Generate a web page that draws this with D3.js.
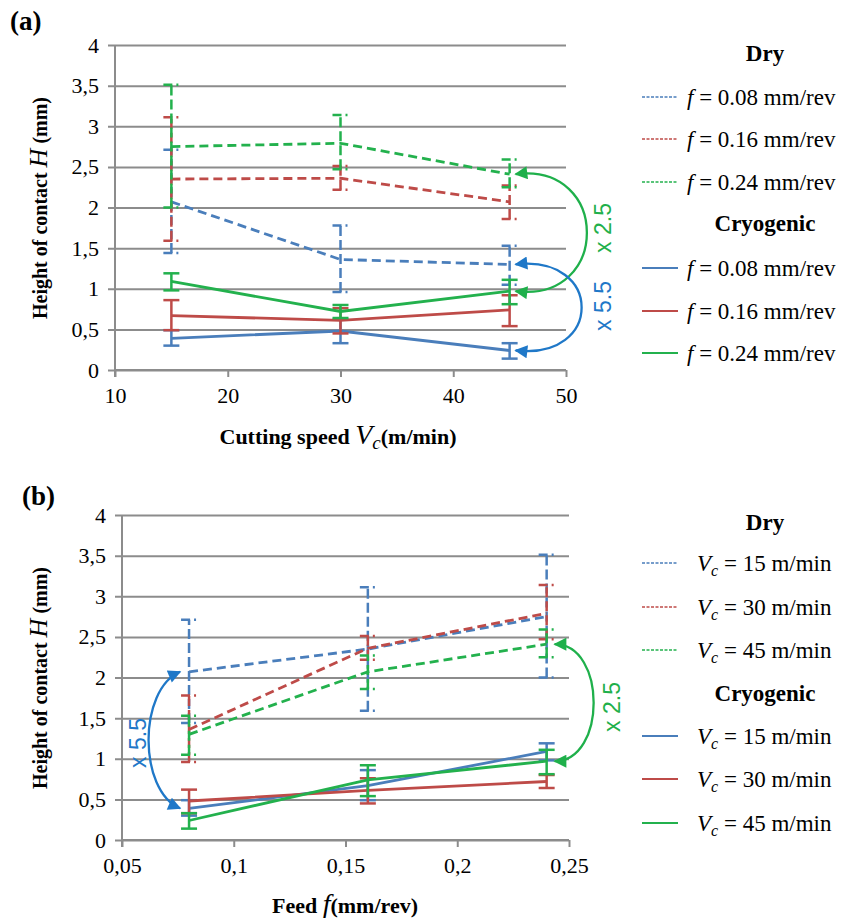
<!DOCTYPE html>
<html lang="en">
<head>
<meta charset="UTF-8" />
<title>Height of contact vs cutting speed and feed</title>
<script src="https://d3js.org/d3.v7.min.js"></script>
<style>
  body { margin: 0; background: #fff; }
</style>
</head>
<body>
<script>

// feed rates (mm/rev) and cutting speeds (m/min)
var feeds = [0.08, 0.16, 0.24];
var speeds = [15, 30, 45];

// rows = feed, columns = cutting speed
var dryMean = [[2.07, 1.36, 1.30], [2.35, 2.36, 2.07], [2.75, 2.79, 2.41]];
var dryLow  = [[1.44, 0.96, 1.05], [1.59, 2.22, 1.86], [2.00, 2.47, 2.25]];
var dryHigh = [[2.71, 1.78, 1.53], [3.11, 2.51, 2.27], [3.51, 3.14, 2.59]];

var cryoMean = [[0.39, 0.48, 0.24], [0.67, 0.61, 0.74], [1.09, 0.72, 0.97]];
var cryoLow  = [[0.30, 0.33, 0.14], [0.49, 0.45, 0.54], [0.98, 0.64, 0.81]];
var cryoHigh = [[0.49, 0.62, 0.33], [0.86, 0.76, 0.92], [1.19, 0.80, 1.11]];

var yTicks = [0, 0.5, 1, 1.5, 2, 2.5, 3, 3.5, 4];
var speedTicks = [10, 20, 30, 40, 50];
var feedTicks = [0.05, 0.1, 0.15, 0.2, 0.25];

var colors = ["#4a7ebb", "#be4b48", "#23b14d"];
var arrowBlue = "#1f78c8", arrowGreen = "#1fb04b";
var SERIF = "'Liberation Serif', 'Times New Roman', serif";
var SANS = "'Liberation Sans', Arial, sans-serif";

var svg = d3.select("body").append("svg")
  .attr("width", 857).attr("height", 918);

var defs = svg.append("defs");
[["arrow-blue", arrowBlue], ["arrow-green", arrowGreen]].forEach(function(m) {
  defs.append("marker")
    .attr("id", m[0])
    .attr("viewBox", "0 0 10 10")
    .attr("refX", 9).attr("refY", 5)
    .attr("markerUnits", "userSpaceOnUse")
    .attr("markerWidth", 15).attr("markerHeight", 13)
    .attr("orient", "auto-start-reverse")
    .append("path").attr("d", "M0,0 L10,5 L0,10 z").attr("fill", m[1]);
});

function comma(d) { return String(d).replace(".", ","); }

// one panel: axes, grid, series, legend
function drawPanel(p) {
  var x = d3.scaleLinear().domain(p.xDomain).range([p.left, p.right]);
  var y = d3.scaleLinear().domain([0, 4]).range([p.bottom, p.top]);
  var g = svg.append("g");

  // horizontal grid + y axis
  var yAxis = d3.axisLeft(y).tickValues(yTicks).tickSize(0)
    .tickPadding(16).tickFormat(comma);
  g.append("g").attr("transform", "translate(" + p.left + ",0)").call(yAxis)
    .call(function(a) {
      a.select(".domain").remove();
      a.selectAll(".tick line").attr("stroke", "#8c8c8c").attr("stroke-width", 2)
        .attr("x1", -7).attr("x2", p.right - p.left);
      a.selectAll(".tick text").attr("font-size", 22).style("font-family", SERIF).attr("fill", "#000");
    });
  g.append("line").attr("x1", p.left).attr("x2", p.left).attr("y1", p.top).attr("y2", p.bottom + 7)
    .attr("stroke", "#8c8c8c").attr("stroke-width", 2);

  var xAxis = d3.axisBottom(x).tickValues(p.xTicks).tickSize(7).tickPadding(10).tickFormat(p.xFormat);
  g.append("g").attr("transform", "translate(0," + p.bottom + ")").call(xAxis)
    .call(function(a) {
      a.select(".domain").attr("stroke", "#8c8c8c").attr("stroke-width", 2).attr("d", "M" + p.left + ",0H" + p.right);
      a.selectAll(".tick line").attr("stroke", "#8c8c8c").attr("stroke-width", 2);
      a.selectAll(".tick text").attr("font-size", 22).style("font-family", SERIF).attr("fill", "#000");
    });

  // series
  var line = d3.line().x(function(d) { return x(d.x); }).y(function(d) { return y(d.y); });
  p.series.forEach(function(s) {
    var sg = g.append("g");
    var dash = s.dry ? "10,4" : null;
    sg.selectAll("line.bar").data(s.points).enter().append("line")
      .attr("x1", function(d) { return x(d.x); }).attr("x2", function(d) { return x(d.x); })
      .attr("y1", function(d) { return y(d.lo); }).attr("y2", function(d) { return y(d.hi); })
      .attr("stroke", s.color).attr("stroke-width", 2.5).attr("stroke-dasharray", dash);
    var caps = [];
    s.points.forEach(function(d) { caps.push({x: d.x, v: d.lo}); caps.push({x: d.x, v: d.hi}); });
    sg.selectAll("line.cap").data(caps).enter().append("line")
      .attr("x1", function(d) { return x(d.x) - 8; }).attr("x2", function(d) { return x(d.x) + 8; })
      .attr("y1", function(d) { return y(d.v); }).attr("y2", function(d) { return y(d.v); })
      .attr("stroke", s.color).attr("stroke-width", 2.5)
      .attr("stroke-dasharray", s.dry ? "9,4,2,4" : null);
    sg.append("path").datum(s.points).attr("d", line)
      .attr("fill", "none").attr("stroke", s.color).attr("stroke-width", 2.8)
      .attr("stroke-dasharray", s.dry ? "9,5" : null);
  });

  // ratio arrows
  p.arrows.forEach(function(a) {
    var x1 = x(a.x) + a.off, y1 = y(a.from), y2 = y(a.to);
    g.append("path")
      .attr("d", "M" + x1 + "," + y1 + " C" + (x1 + a.bend) + "," + (y1 + a.tilt) + " " +
        (x1 + a.bend) + "," + (y2 - a.tilt) + " " + x1 + "," + y2)
      .attr("fill", "none").attr("stroke", a.color).attr("stroke-width", 2.3)
      .attr("marker-start", "url(#" + a.marker + ")").attr("marker-end", "url(#" + a.marker + ")");
    g.append("text").attr("transform", "translate(" + a.tx + "," + a.ty + ") rotate(-90)")
      .attr("text-anchor", "middle").attr("dy", "0.35em")
      .style("font-family", SANS).attr("font-size", 23)
      .attr("fill", a.color).text(a.label);
  });

  // axis titles
  var yt = g.append("text").attr("transform", "translate(" + p.yTitleX + "," + p.yTitleY + ") rotate(-90)")
    .attr("text-anchor", "middle").style("font-family", SERIF).attr("font-size", 20).attr("font-weight", "bold");
  yt.append("tspan").text("Height of contact ");
  yt.append("tspan").attr("font-style", "italic").attr("font-weight", "normal").attr("font-size", 26).text("H");
  yt.append("tspan").text(" (mm)");

  var xt = g.append("text").attr("x", p.xTitleX).attr("y", p.xTitleY)
    .attr("text-anchor", "middle").style("font-family", SERIF).attr("font-size", 22).attr("font-weight", "bold");
  p.xTitle(xt);

  g.append("text").attr("x", p.tagX).attr("y", p.tagY).style("font-family", SERIF).attr("font-size", 27)
    .attr("font-weight", "bold").text(p.tag);

  // legend
  var lg = g.append("g");
  var rows = [{head: "Dry"}].concat(p.legend.map(function(l, i) { return {dry: true, i: i, l: l}; }))
    .concat([{head: "Cryogenic"}]).concat(p.legend.map(function(l, i) { return {dry: false, i: i, l: l}; }));
  rows.forEach(function(r, k) {
    var yy = p.legendY[k];
    if (r.head) {
      lg.append("text").attr("x", 765).attr("y", yy).attr("dy", "0.35em").attr("text-anchor", "middle")
        .style("font-family", SERIF).attr("font-size", 23).attr("font-weight", "bold").text(r.head);
      return;
    }
    lg.append("line").attr("x1", 642).attr("x2", 678).attr("y1", yy).attr("y2", yy)
      .attr("stroke", colors[r.i]).attr("stroke-width", r.dry ? 1.6 : 2.2)
      .attr("stroke-dasharray", r.dry ? "3,1.5" : null);
    var t = lg.append("text").attr("x", p.legendTextX).attr("y", yy).attr("dy", "0.35em")
      .style("font-family", SERIF).attr("font-size", 23);
    p.legendLabel(t, r.l);
  });
}

function series(byFeed) {
  var out = [];
  [true, false].forEach(function(dry) {
    var m = dry ? dryMean : cryoMean, lo = dry ? dryLow : cryoLow, hi = dry ? dryHigh : cryoHigh;
    for (var k = 0; k < 3; k++) {
      var pts = [];
      for (var j = 0; j < 3; j++) {
        var fi = byFeed ? k : j, si = byFeed ? j : k;
        pts.push({x: byFeed ? speeds[j] : feeds[j], y: m[fi][si], lo: lo[fi][si], hi: hi[fi][si]});
      }
      out.push({dry: dry, color: colors[k], points: pts});
    }
  });
  return out;
}

drawPanel({
  tag: "(a)", tagX: 10, tagY: 30,
  left: 115, right: 566, top: 45, bottom: 370,
  xDomain: [10, 50], xTicks: speedTicks, xFormat: d3.format("d"),
  series: series(true),
  arrows: [
    {x: 45, from: dryMean[2][2], to: cryoMean[2][2], off: 6, bend: 95, tilt: -12, color: arrowGreen,
      marker: "arrow-green", label: "x 2.5", tx: 603, ty: 228},
    {x: 45, from: dryMean[0][2], to: cryoMean[0][2], off: 6, bend: 88, tilt: -10, color: arrowBlue,
      marker: "arrow-blue", label: "x 5.5", tx: 603, ty: 306}
  ],
  yTitleX: 47, yTitleY: 208,
  xTitleX: 338, xTitleY: 444,
  xTitle: function(t) {
    t.append("tspan").text("Cutting speed ");
    t.append("tspan").attr("font-style", "italic").attr("font-weight", "normal").attr("font-size", 28).text("V");
    t.append("tspan").attr("font-style", "italic").attr("font-weight", "normal").attr("font-size", 19)
      .attr("dy", 5).text("c");
    t.append("tspan").attr("dy", -5).text("(m/min)");
  },
  legend: feeds, legendTextX: 687,
  legendY: [53, 97, 139, 182, 223, 268, 311, 353],
  legendLabel: function(t, f) {
    t.append("tspan").attr("font-style", "italic").text("f");
    t.append("tspan").text(" = " + f.toFixed(2) + " mm/rev");
  }
});

drawPanel({
  tag: "(b)", tagX: 22, tagY: 505,
  left: 122, right: 569, top: 515, bottom: 840,
  xDomain: [0.05, 0.25], xTicks: feedTicks, xFormat: comma,
  series: series(false),
  arrows: [
    {x: 0.08, from: dryMean[0][0], to: cryoMean[0][0], off: -9, bend: -42, tilt: 18, color: arrowBlue,
      marker: "arrow-blue", label: "x 5.5", tx: 138, ty: 743},
    {x: 0.24, from: dryMean[2][2], to: cryoMean[2][2], off: 8, bend: 52, tilt: 0, color: arrowGreen,
      marker: "arrow-green", label: "x 2.5", tx: 612, ty: 707}
  ],
  yTitleX: 47, yTitleY: 678,
  xTitleX: 345, xTitleY: 913,
  xTitle: function(t) {
    t.append("tspan").text("Feed ");
    t.append("tspan").attr("font-style", "italic").attr("font-weight", "normal").attr("font-size", 28).text("f");
    t.append("tspan").text("(mm/rev)");
  },
  legend: speeds, legendTextX: 697,
  legendY: [522, 563, 607, 650, 693, 736, 779, 823],
  legendLabel: function(t, v) {
    t.append("tspan").attr("font-style", "italic").text("V");
    t.append("tspan").attr("font-style", "italic").attr("font-size", 16).attr("dy", 5).text("c");
    t.append("tspan").attr("dy", -5).text(" = " + v + " m/min");
  }
});

</script>
</body>
</html>
